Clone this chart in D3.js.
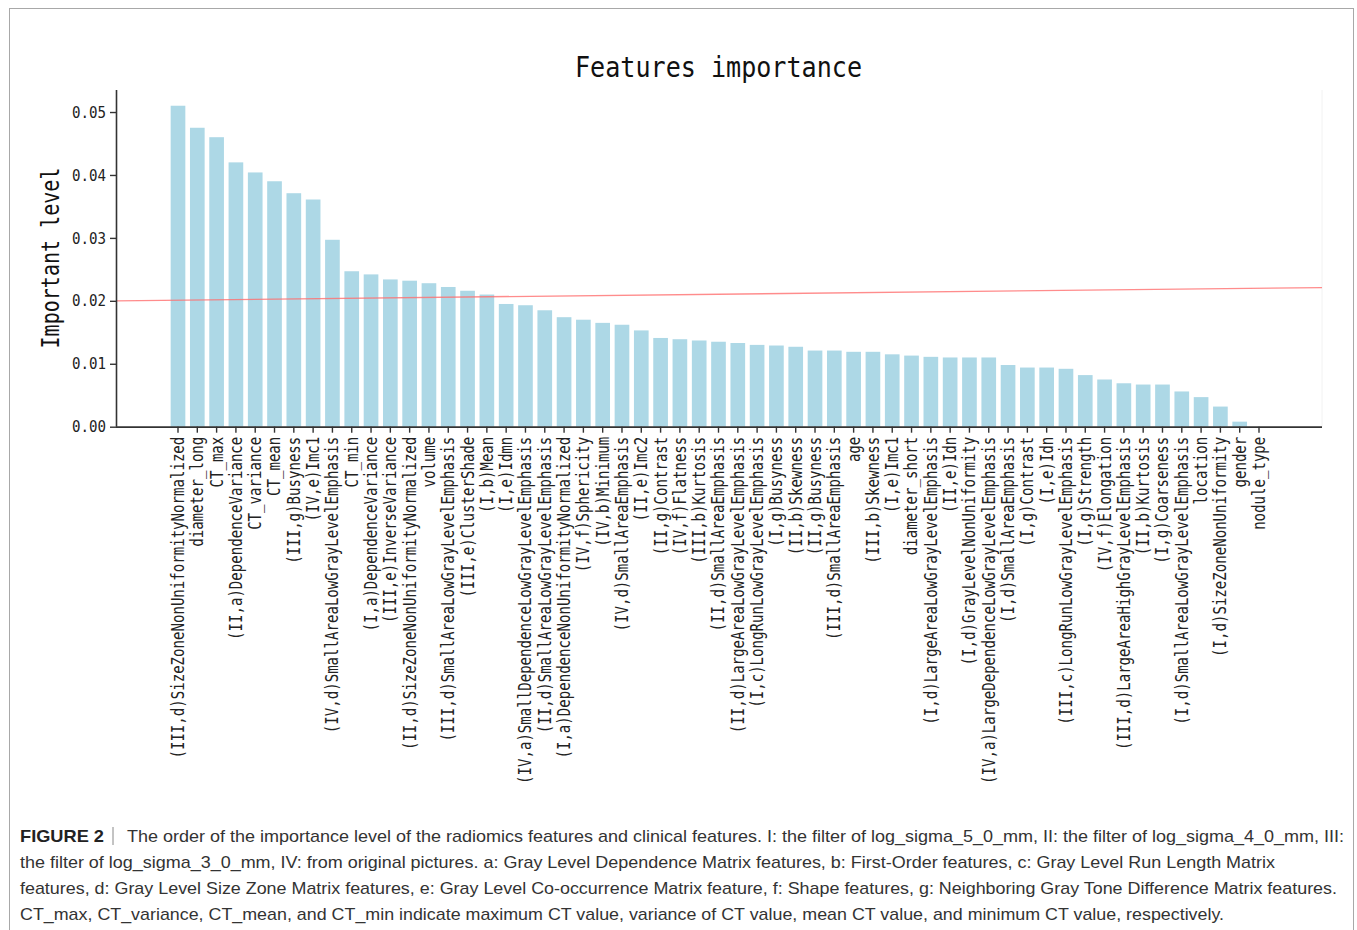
<!DOCTYPE html>
<html>
<head>
<meta charset="utf-8">
<script src="https://cdn.jsdelivr.net/npm/d3@7"></script>
<style>
  html, body { margin: 0; padding: 0; background: #fff; }
  svg { display: block; }
</style>
</head>
<body>
<svg id="chart" width="1357" height="930"></svg>
<script>
// Feature names, ordered by importance
const features = [
  "(III,d)SizeZoneNonUniformityNormalized", "diameter_long", "CT_max",
  "(II,a)DependenceVariance", "CT_variance", "CT_mean", "(III,g)Busyness",
  "(IV,e)Imc1", "(IV,d)SmallAreaLowGrayLevelEmphasis", "CT_min",
  "(I,a)DependenceVariance", "(III,e)InverseVariance",
  "(II,d)SizeZoneNonUniformityNormalized", "volume",
  "(III,d)SmallAreaLowGrayLevelEmphasis", "(III,e)ClusterShade", "(I,b)Mean",
  "(I,e)Idmn", "(IV,a)SmallDependenceLowGrayLevelEmphasis",
  "(II,d)SmallAreaLowGrayLevelEmphasis", "(I,a)DependenceNonUniformityNormalized",
  "(IV,f)Sphericity", "(IV,b)Minimum", "(IV,d)SmallAreaEmphasis", "(II,e)Imc2",
  "(II,g)Contrast", "(IV,f)Flatness", "(III,b)Kurtosis", "(II,d)SmallAreaEmphasis",
  "(II,d)LargeAreaLowGrayLevelEmphasis", "(I,c)LongRunLowGrayLevelEmphasis",
  "(I,g)Busyness", "(II,b)Skewness", "(II,g)Busyness", "(III,d)SmallAreaEmphasis",
  "age", "(III,b)Skewness", "(I,e)Imc1", "diameter_short",
  "(I,d)LargeAreaLowGrayLevelEmphasis", "(II,e)Idn", "(I,d)GrayLevelNonUniformity",
  "(IV,a)LargeDependenceLowGrayLevelEmphasis", "(I,d)SmallAreaEmphasis",
  "(I,g)Contrast", "(I,e)Idn", "(III,c)LongRunLowGrayLevelEmphasis",
  "(I,g)Strength", "(IV,f)Elongation", "(III,d)LargeAreaHighGrayLevelEmphasis",
  "(II,b)Kurtosis", "(I,g)Coarseness", "(I,d)SmallAreaLowGrayLevelEmphasis",
  "location", "(I,d)SizeZoneNonUniformity", "gender", "nodule_type"
];

// Importance level of each feature
const importance = [
  0.0510, 0.0475, 0.0460, 0.0420, 0.0404, 0.0390, 0.0371, 0.0361, 0.0297, 0.0247,
  0.0242, 0.0234, 0.0232, 0.0228, 0.0222, 0.0216, 0.0210, 0.0195, 0.0193, 0.0185,
  0.0174, 0.0170, 0.0165, 0.0162, 0.0153, 0.0141, 0.0139, 0.0137, 0.0135, 0.0133,
  0.0130, 0.0129, 0.0127, 0.0121, 0.0121, 0.0119, 0.0119, 0.0115, 0.0113, 0.0111,
  0.0110, 0.0110, 0.0110, 0.0098, 0.0094, 0.0094, 0.0092, 0.0082, 0.0075, 0.0069,
  0.0067, 0.0067, 0.0056, 0.0047, 0.0032, 0.0008, 0.0000
];

const yTicks = [0.00, 0.01, 0.02, 0.03, 0.04, 0.05];

// Reference line: value at the left edge and at the right edge of the axes
const thresholdLine = [0.0200, 0.0221];

const chartTitle = "Features importance";
const yTitle = "Important level";

const captionBold = "FIGURE 2";
const captionLines = [
  "The order of the importance level of the radiomics features and clinical features. I: the filter of log_sigma_5_0_mm, II: the filter of log_sigma_4_0_mm, III:",
  "the filter of log_sigma_3_0_mm, IV: from original pictures. a: Gray Level Dependence Matrix features, b: First-Order features, c: Gray Level Run Length Matrix",
  "features, d: Gray Level Size Zone Matrix features, e: Gray Level Co-occurrence Matrix feature, f: Shape features, g: Neighboring Gray Tone Difference Matrix features.",
  "CT_max, CT_variance, CT_mean, and CT_min indicate maximum CT value, variance of CT value, mean CT value, and minimum CT value, respectively."
];

const svg = d3.select("#chart");
const mono = "'DejaVu Sans Mono', 'Liberation Mono', monospace";

// outer frame
svg.append("rect")
  .attr("x", 9.5).attr("y", 8.5)
  .attr("width", 1344).attr("height", 940)
  .attr("fill", "none").attr("stroke", "#a8a8a8").attr("stroke-width", 1);

// plot area
const axLeft = 116, axRight = 1322, axTop = 90, axBottom = 426.7;
const step = (1259 - 178) / (features.length - 1);

const x = d3.scaleBand()
  .domain(features)
  .range([178 - step / 2, 178 - step / 2 + step * features.length])
  .paddingInner(0.24)
  .paddingOuter(0.12);

const y = d3.scaleLinear()
  .domain([0, 0.0535])
  .range([axBottom, axTop]);

// faint right frame of the axes
svg.append("line")
  .attr("x1", axRight).attr("x2", axRight)
  .attr("y1", axTop).attr("y2", axBottom)
  .attr("stroke", "#f2f2f2").attr("stroke-width", 1);

// bars
svg.append("g").selectAll("rect")
  .data(features.map((f, i) => ({ f, v: importance[i] })))
  .join("rect")
  .attr("x", d => x(d.f))
  .attr("width", x.bandwidth())
  .attr("y", d => y(d.v))
  .attr("height", d => y(0) - y(d.v))
  .attr("fill", "#add8e6");

// reference line
const lx = d3.scaleLinear().domain([0, 1]).range([axLeft, axRight]);
svg.append("path")
  .datum(thresholdLine.map((v, i) => [i, v]))
  .attr("d", d3.line().x(d => lx(d[0])).y(d => y(d[1])))
  .attr("stroke", "#ff6f6f").attr("stroke-opacity", 0.8)
  .attr("stroke-width", 1.3).attr("fill", "none");

// y axis
const yAxis = svg.append("g")
  .attr("transform", `translate(${axLeft},0)`)
  .call(d3.axisLeft(y).tickValues(yTicks).tickFormat(d3.format(".2f")).tickSize(6).tickPadding(4));
yAxis.select(".domain").attr("stroke", "#333").attr("stroke-width", 1.6)
  .attr("d", `M0.5,${axTop}V${axBottom}`);
yAxis.selectAll(".tick line").attr("stroke", "#333").attr("stroke-width", 1.4);
yAxis.selectAll(".tick text")
  .attr("font-family", mono).attr("font-size", 16).attr("fill", "#222")
  .attr("textLength", 34).attr("lengthAdjust", "spacingAndGlyphs");

// x axis
const xAxis = svg.append("g")
  .attr("transform", `translate(0,${axBottom})`)
  .call(d3.axisBottom(x).tickSize(6).tickPadding(0));
xAxis.select(".domain").attr("stroke", "#333").attr("stroke-width", 1.8)
  .attr("d", `M${axLeft},0.5H${axRight}`);
xAxis.selectAll(".tick line").attr("stroke", "#333").attr("stroke-width", 1.4);
xAxis.selectAll(".tick text")
  .attr("font-family", mono).attr("font-size", 17).attr("fill", "#222")
  .attr("text-anchor", "end")
  .attr("transform", "translate(0,10) rotate(-90)")
  .attr("x", 0).attr("y", 0).attr("dy", "0.35em")
  .attr("textLength", d => d.length * 8.47)
  .attr("lengthAdjust", "spacingAndGlyphs");

// y title
svg.append("text")
  .attr("transform", `translate(59,258) rotate(-90)`)
  .attr("text-anchor", "middle")
  .attr("font-family", mono).attr("font-size", 24).attr("fill", "#111")
  .attr("textLength", 181).attr("lengthAdjust", "spacingAndGlyphs")
  .text(yTitle);

// chart title
svg.append("text")
  .attr("x", 718.5).attr("y", 77)
  .attr("text-anchor", "middle")
  .attr("font-family", mono).attr("font-size", 29).attr("fill", "#111")
  .attr("textLength", 287).attr("lengthAdjust", "spacingAndGlyphs")
  .text(chartTitle);

// caption
const capFont = "'Liberation Sans', Arial, sans-serif";
const capEnds = [1344, 1275, 1337, 1224];
const capBase = [842, 868, 894, 920];
svg.append("text")
  .attr("x", 20).attr("y", capBase[0])
  .attr("font-family", capFont).attr("font-weight", "bold").attr("font-size", 17)
  .attr("fill", "#222")
  .attr("textLength", 84).attr("lengthAdjust", "spacingAndGlyphs")
  .text(captionBold);
svg.append("line")
  .attr("x1", 113).attr("x2", 113)
  .attr("y1", capBase[0] - 15).attr("y2", capBase[0] + 3)
  .attr("stroke", "#888").attr("stroke-width", 1);
captionLines.forEach((t, i) => {
  const x0 = i === 0 ? 127 : 20;
  svg.append("text")
    .attr("x", x0).attr("y", capBase[i])
    .attr("font-family", capFont).attr("font-size", 17).attr("fill", "#333")
    .attr("textLength", capEnds[i] - x0).attr("lengthAdjust", "spacingAndGlyphs")
    .text(t);
});
</script>
</body>
</html>
